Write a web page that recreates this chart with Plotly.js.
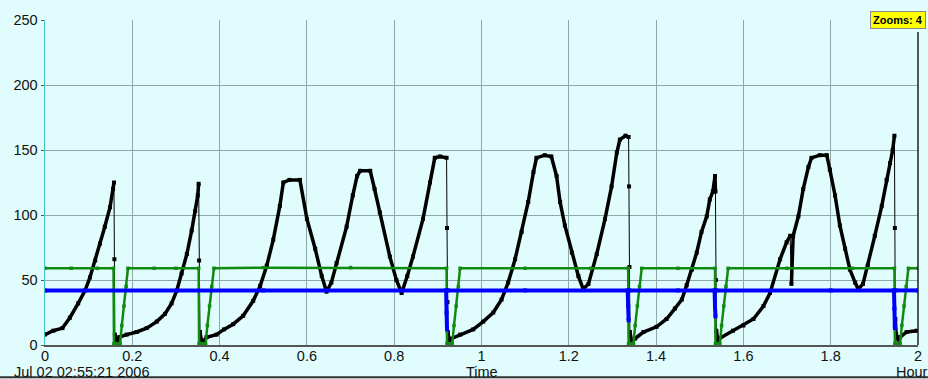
<!DOCTYPE html>
<html>
<head>
<meta charset="utf-8">
<script src="https://cdn.plot.ly/plotly-3.0.1.min.js"></script>
<style>
  html, body { margin: 0; padding: 0; background: #e0fcfc; overflow: hidden; }
  #chart { width: 928px; height: 379px; }
</style>
</head>
<body>
<div id="chart"></div>
<script>
// Time in hours since Jul 02 02:55:21 2006
const blackT = [0.000,0.019,0.040,0.057,0.076,0.092,0.103,0.115,0.126,0.137,0.149,0.156,0.158,0.159,0.160,0.163,0.166,0.170,0.187,0.210,0.233,0.256,0.275,0.290,0.302,0.313,0.325,0.336,0.344,0.350,0.352,0.353,0.355,0.358,0.362,0.370,0.393,0.410,0.431,0.454,0.477,0.493,0.508,0.523,0.538,0.546,0.560,0.584,0.600,0.619,0.634,0.645,0.656,0.668,0.691,0.705,0.715,0.722,0.745,0.755,0.767,0.790,0.805,0.817,0.830,0.843,0.866,0.882,0.893,0.905,0.920,0.921,0.922,0.923,0.926,0.932,0.951,0.981,1.004,1.027,1.046,1.061,1.077,1.092,1.107,1.119,1.126,1.145,1.160,1.172,1.180,1.191,1.207,1.222,1.233,1.245,1.264,1.283,1.298,1.310,1.317,1.330,1.337,1.338,1.339,1.340,1.344,1.352,1.371,1.401,1.424,1.443,1.459,1.470,1.482,1.493,1.504,1.516,1.523,1.530,1.535,1.536,1.537,1.538,1.542,1.545,1.576,1.600,1.623,1.646,1.661,1.684,1.699,1.707,1.710,1.714,1.726,1.737,1.749,1.756,1.775,1.791,1.798,1.810,1.821,1.833,1.844,1.856,1.863,1.874,1.885,1.901,1.917,1.928,1.936,1.942,1.946,1.947,1.948,1.950,1.955,1.959,1.974,1.997];
const blackV = [8,11,13,21,32,42,52,65,78,91,106,120,125,66,8,3,2,6,8,10,13,18,24,32,42,55,70,88,103,115,124,65,10,4,2,6,8,12,16,22.5,34,45.5,61,81,107,125,127,127,97,74,53,41,48,63,91,115,130,134,134,120,102,68,50,40,53,68,97,125,144,145,144,90,33,10,3,5,8,12,18,25,35,48,66,87,110,133,144,146,145,130,110,92,71,53,43,47,70,97,122,148,158,161,160,122,60,10,3,5,10,14,20,28,35,46,58,71,87,99,112,118,130,118,50,11,3,5,11,15,20,30,40,66,79,84,47,84,99,120,137,144,146,146,135,115,92,74,58,48,43,47,61,84,107,127,140,150,161,90,20,8,4,6,10,11];

const greenT = [0,0.060,0.120,0.157,0.158,0.165,0.172,0.176,0.181,0.186,0.190,0.250,0.300,0.352,0.353,0.360,0.368,0.372,0.377,0.382,0.387,0.500,0.700,0.920,0.921,0.927,0.933,0.937,0.942,0.947,0.951,1.100,1.250,1.336,1.337,1.342,1.348,1.352,1.357,1.362,1.367,1.450,1.535,1.536,1.541,1.546,1.550,1.555,1.560,1.565,1.700,1.850,1.946,1.947,1.953,1.959,1.963,1.968,1.973,1.978,2.000];
const greenV = [59,59,59,59,1,1,1,15,30,45,59,59,59,59,1,1,1,15,30,45,59,59.5,59.5,59,1,1,1,15,30,45,59,59,59,59,1,1,1,15,30,45,59,59,59,1,1,1,15,30,45,59,59,59,59,1,1,1,15,30,45,59,59];

const blueT = [0,0.500,0.919,0.920,0.921,null,0.923,1.100,1.335,1.336,1.337,null,1.339,1.450,1.534,1.535,1.536,null,1.538,1.800,1.945,1.946,1.947,null,1.949,2.000];
const blueV = [42,42,42,25,12,null,42,42,42,30,19,null,42,42,42,29,22,null,42,42,42,28,13,null,42,42];

const xTicks = [0,0.2,0.4,0.6,0.8,1,1.2,1.4,1.6,1.8,2];
const xTickText = ["0","0.2","0.4","0.6","0.8","1","1.2","1.4","1.6","1.8","2"];
const yTicks = [0,50,100,150,200,250];

// thick version of the black series, broken only at the near-vertical resets
const thickT = [], thickV = [];
for (let i = 0; i < blackT.length; i++) {
  thickT.push(blackT[i]); thickV.push(blackV[i]);
  if (i < blackT.length - 1 && blackV[i + 1] - blackV[i] < -20 && blackT[i + 1] - blackT[i] < 0.004) {
    thickT.push(null); thickV.push(null);
  }
}

const font = {family: "Liberation Sans, Arial, sans-serif", size: 14.5, color: "#111"};

const traces = [
  {x: blackT, y: blackV, type: "scatter", mode: "lines+markers", line: {color: "#000", width: 1},
   marker: {symbol: "square", size: 4, color: "#000"}, showlegend: false},
  {x: thickT, y: thickV, type: "scatter", mode: "lines", line: {color: "#000", width: 3.5},
   connectgaps: false, showlegend: false},
  {x: greenT, y: greenV, type: "scatter", mode: "lines+markers", line: {color: "#108a10", width: 2.5},
   marker: {symbol: "square", size: 3.5, color: "#108a10"}, showlegend: false},
  {x: blueT, y: blueV, type: "scatter", mode: "lines+markers", line: {color: "#0000ff", width: 4},
   marker: {symbol: "square", size: 4, color: "#0000ff"}, connectgaps: false, showlegend: false}
];

const layout = {
  width: 928, height: 379,
  margin: {l: 45, r: 10, t: 20, b: 34, pad: 0},
  paper_bgcolor: "#e0fcfc", plot_bgcolor: "#e0fcfc",
  font: font,
  showlegend: false,
  xaxis: {
    range: [0, 2], tickmode: "array", tickvals: xTicks, ticktext: xTickText,
    showgrid: true, gridcolor: "#8fa8a8", gridwidth: 1, zeroline: false,
    showline: true, linecolor: "#555", linewidth: 1.5,
    ticks: "", ticklabelstandoff: -3, tickfont: font
  },
  yaxis: {
    range: [0, 250], tickmode: "array", tickvals: yTicks,
    showgrid: true, gridcolor: "#8fa8a8", gridwidth: 1, zeroline: false,
    showline: true, linecolor: "#40c8c8", linewidth: 1.5,
    ticks: "outside", ticklen: 3, tickcolor: "#555", tickfont: font
  },
  shapes: [
    {type: "line", xref: "paper", yref: "paper", x0: 1, x1: 1, y0: 0, y1: 0.963, line: {color: "#222", width: 1.5}},
    {type: "line", xref: "paper", yref: "paper", x0: -0.0515, x1: 1.0115, y0: -0.099, y1: -0.099, line: {color: "#333", width: 2}}
  ],
  annotations: [
    {text: "Jul 02 02:55:21 2006", xref: "paper", yref: "paper", x: -0.0378, xanchor: "left", y: -0.083, yanchor: "middle", showarrow: false, font: font},
    {text: "Time", xref: "x", yref: "paper", x: 1, xanchor: "center", y: -0.083, yanchor: "middle", showarrow: false, font: font},
    {text: "Hour", xref: "paper", yref: "paper", x: 0.9725, xanchor: "left", y: -0.083, yanchor: "middle", showarrow: false, font: font},
    {text: "<b>Zooms: 4</b>", xref: "paper", yref: "paper", x: 0.977, xanchor: "center", y: 1.0, yanchor: "middle", showarrow: false,
     bgcolor: "#ffff00", bordercolor: "#888", borderwidth: 1, borderpad: 2,
     font: {family: "Liberation Sans, Arial, sans-serif", size: 11, color: "#000"}}
  ]
};

Plotly.newPlot("chart", traces, layout, {displayModeBar: false, staticPlot: true});
</script>
</body>
</html>
